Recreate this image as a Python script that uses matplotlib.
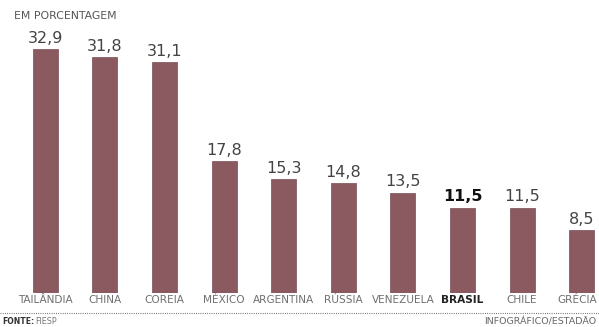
import matplotlib
matplotlib.use("Agg")
import matplotlib.pyplot as plt

categories = ["TAILÂNDIA", "CHINA", "COREIA", "MÉXICO", "ARGENTINA", "RÚSSIA",
              "VENEZUELA", "BRASIL", "CHILE", "GRÉCIA"]
values = [32.9, 31.8, 31.1, 17.8, 15.3, 14.8, 13.5, 11.5, 11.5, 8.5]
labels = ["32,9", "31,8", "31,1", "17,8", "15,3", "14,8", "13,5", "11,5", "11,5", "8,5"]
highlight = "BRASIL"

W, H = 599, 327
fig = plt.figure(figsize=(W / 100, H / 100), dpi=100)
fig.patch.set_facecolor("white")

bottom_px = 293
px_per_unit = 7.42
spacing = 59.6
first = 45.3
ax = fig.add_axes([0, 1 - bottom_px / H, 1, bottom_px / H])
ax.set_xlim(-first / spacing, (W - first) / spacing)
ax.set_ylim(0, bottom_px / px_per_unit)
ax.axis("off")

bar_color = "#8b5a61"
x = list(range(len(categories)))
ax.bar(x, values, width=25 / spacing, color=bar_color, edgecolor="#7a4c53", linewidth=0.5)

font = "DejaVu Sans"
last = len(categories) - 1
for i, (v, lab, cat) in enumerate(zip(values, labels, categories)):
    hl = cat == highlight
    ax.text(i, v + 0.45, lab, ha="center", va="bottom", fontsize=11.5,
            family=font, color="#111111" if hl else "#444444",
            fontweight="bold" if hl else "normal", clip_on=False)
    if i == last:
        fig.text(597 / W, 1 - 300 / H, cat, ha="right", va="center",
                 fontsize=7.6, family=font, color="#707070")
    else:
        fig.text((first + spacing * i) / W, 1 - 300 / H, cat, ha="center", va="center",
                 fontsize=7.6, family=font, color="#222222" if hl else "#707070",
                 fontweight="bold" if hl else "normal")

fig.text(14 / W, 1 - 16 / H, "EM PORCENTAGEM", ha="left", va="center",
         fontsize=7.8, family=font, color="#555555")

fig.add_artist(plt.Line2D([0, 1], [1 - 313 / H, 1 - 313 / H], transform=fig.transFigure,
                          color="#666666", linestyle=(0, (0.8, 1.2)), linewidth=0.8))
fig.text(2 / W, 1 - 322 / H, "FONTE:", ha="left", va="center", fontsize=5.6,
         family=font, fontweight="bold", color="#333333")
fig.text(35 / W, 1 - 322 / H, "FIESP", ha="left", va="center", fontsize=5.8,
         family=font, color="#777777")
fig.text(596 / W, 1 - 322 / H, "INFOGRÁFICO/ESTADÃO", ha="right", va="center",
         fontsize=6.8, family=font, color="#666666")

fig.savefig("out.png", dpi=100, facecolor="white")
